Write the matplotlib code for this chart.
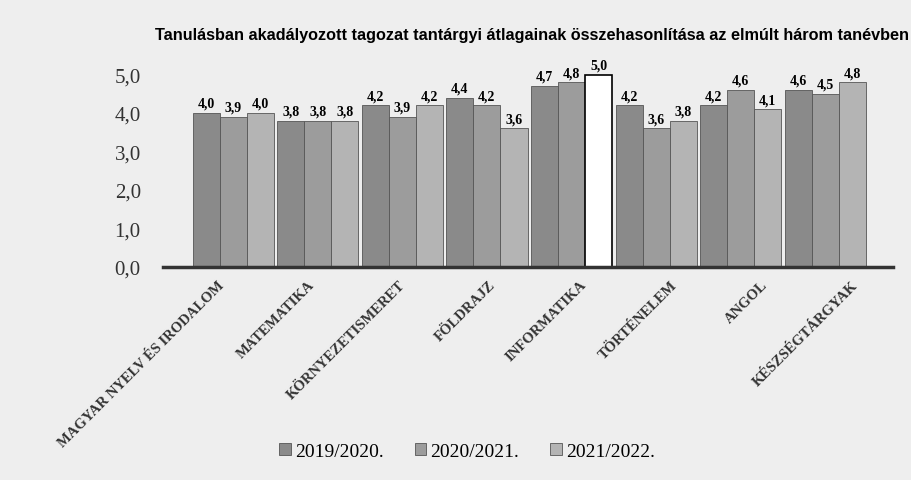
import numpy as np
import matplotlib.pyplot as plt
from matplotlib.transforms import ScaledTranslation

targyak = ['MAGYAR NYELV ÉS IRODALOM', 'MATEMATIKA', 'KÖRNYEZETISMERET', 'FÖLDRAJZ',
           'INFORMATIKA', 'TÖRTÉNELEM', 'ANGOL', 'KÉSZSÉGTÁRGYAK']
evek = ['2019/2020.', '2020/2021.', '2021/2022.']
atlag_2019 = [4.0, 3.8, 4.2, 4.4, 4.7, 4.2, 4.2, 4.6]
atlag_2020 = [3.9, 3.8, 3.9, 4.2, 4.8, 3.6, 4.6, 4.5]
atlag_2021 = [4.0, 3.8, 4.2, 3.6, 5.0, 3.8, 4.1, 4.8]
yticks = [0, 1, 2, 3, 4, 5]

szinek = ['#8a8a8a', '#9c9c9c', '#b4b4b4']
hatter = '#eeeeee'

fig = plt.figure(figsize=(9.12, 4.81), dpi=100, facecolor=hatter)
ax = fig.add_axes([0.1787, 0.443, 0.8004, 0.432])
ax.set_facecolor(hatter)

x = np.arange(len(targyak))
w = 0.32
for i, (adat, ev) in enumerate(zip([atlag_2019, atlag_2020, atlag_2021], evek)):
    bars = ax.bar(x + (i - 1) * w, adat, w, color=szinek[i], edgecolor='#555555',
                  linewidth=0.6, label=ev)
    for b, v in zip(bars, adat):
        if v == max(atlag_2021):
            # the 5,0 bar is drawn white in the original
            b.set_facecolor('white')
            b.set_edgecolor('black')
            b.set_linewidth(1.2)
        ax.text(b.get_x() + b.get_width() / 2, v + 0.08, f'{v:.1f}'.replace('.', ','),
                ha='center', va='bottom', fontsize=10, fontweight='bold',
                family='Liberation Serif')

ax.set_xlim(-0.83, 7.8)
ax.set_ylim(0, 5.4)
ax.set_yticks(yticks)
ax.set_yticklabels([f'{t:.1f}'.replace('.', ',') for t in yticks],
                   family='Liberation Serif', fontsize=15, color='#333333')
ax.tick_params(axis='y', length=0, pad=16)
ax.set_xticks(x)
ax.set_xticklabels(targyak, rotation=45, ha='right', va='top', rotation_mode='anchor',
                   family='Liberation Serif', fontsize=10.5, fontweight='bold', color='#333333')
ax.tick_params(axis='x', length=0, pad=8)
# labels drift to the right in the scanned chart
for i, lbl in enumerate(ax.get_xticklabels()):
    lbl.set_transform(lbl.get_transform() + ScaledTranslation((-16 + 6 * i) / 100, 0, fig.dpi_scale_trans))
for s in ['top', 'right', 'left']:
    ax.spines[s].set_visible(False)
ax.spines['bottom'].set_linewidth(2.5)
ax.spines['bottom'].set_color('#333333')

fig.text(0.17, 0.927, 'Tanulásban akadályozott tagozat tantárgyi átlagainak összehasonlítása az elmúlt három tanévben',
         fontsize=11.7, fontweight='bold', family='Liberation Sans', ha='left', va='center')

fig.legend(loc='center', bbox_to_anchor=(0.512, 0.06), ncol=3, frameon=False,
           prop={'family': 'Liberation Serif', 'size': 14}, handlelength=0.6,
           handleheight=0.6, handletextpad=0.2, columnspacing=1.6)

fig.savefig('out.png', dpi=100, facecolor=hatter)
